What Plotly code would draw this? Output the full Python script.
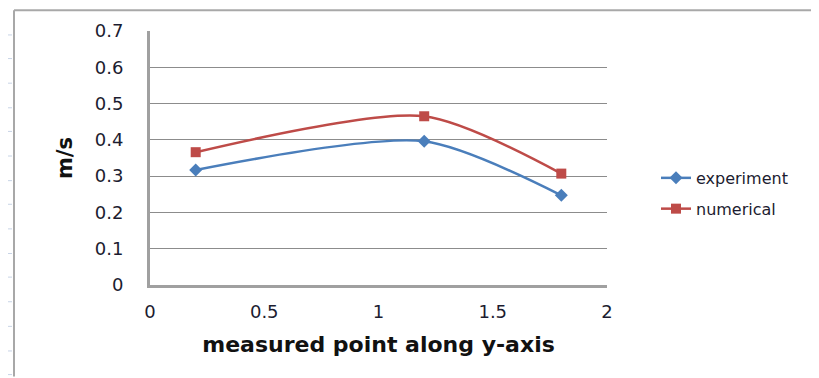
import plotly.graph_objects as go

x_points = [0.2, 1.2, 1.8]
experiment = [0.317, 0.396, 0.247]
numerical = [0.366, 0.465, 0.307]
x_ticks = [0, 0.5, 1, 1.5, 2]
x_tick_labels = ["0", "0.5", "1", "1.5", "2"]
y_ticks = [0, 0.1, 0.2, 0.3, 0.4, 0.5, 0.6, 0.7]
y_tick_labels = ["0", "0.1", "0.2", "0.3", "0.4", "0.5", "0.6", "0.7"]

OFF = 8  # page body margin
W, H = 819 - OFF, 378 - OFF
L, R, T, B = 150 - OFF, 607 - OFF, 27 - OFF, 285 - OFF


def px(xp):
    return (xp - OFF - L) / (R - L)


def py(yp):
    return (B - (yp - OFF)) / (B - T)


fig = go.Figure()
fig.add_trace(go.Scatter(
    x=x_points, y=experiment, name="experiment", mode="lines+markers",
    line=dict(color="#4a7ebb", width=2.5, shape="spline", smoothing=0.75),
    marker=dict(symbol="diamond", size=10, color="#4a7ebb"),
    legendgroup="a"))
fig.add_trace(go.Scatter(
    x=x_points, y=numerical, name="numerical", mode="lines+markers",
    line=dict(color="#be4b48", width=2.5, shape="spline", smoothing=0.75),
    marker=dict(symbol="square", size=10, color="#be4b48"),
    legendgroup="b"))

tickfont = dict(family="DejaVu Sans", size=18, color="#1c1c30")

fig.update_layout(
    width=W, height=H,
    margin=dict(l=L, r=W - R, t=T, b=H - B, pad=0),
    paper_bgcolor="white", plot_bgcolor="white",
    showlegend=True,
    legend=dict(x=px(656), y=py(159), xanchor="left", yanchor="top",
                font=dict(family="DejaVu Sans", size=16, color="#1c1c30"),
                tracegroupgap=7, bgcolor="rgba(0,0,0,0)"),
    xaxis=dict(range=[0, 2], tickvals=x_ticks, ticktext=x_tick_labels,
               showgrid=False, zeroline=False, showline=True,
               linecolor="#a0a0a0", linewidth=3, ticks="",
               ticklabelstandoff=8, tickfont=tickfont,
               title=dict(text="<b>measured point along y-axis</b>",
                          font=dict(family="DejaVu Sans", size=22, color="#111111"),
                          standoff=17)),
    yaxis=dict(range=[0, 0.7], tickvals=y_ticks, ticktext=y_tick_labels,
               showgrid=True, gridcolor="#8c8c8c", gridwidth=1,
               zeroline=False, showline=True,
               linecolor="#a0a0a0", linewidth=3, ticks="",
               ticklabelstandoff=20, tickfont=tickfont,
               title=dict(text="<b>m/s</b>",
                          font=dict(family="DejaVu Sans", size=21, color="#111111"),
                          standoff=17)),
)

# spreadsheet frame decorations around the chart object
shapes = []
shapes.append(dict(type="line", xref="paper", yref="paper",
                   x0=px(14), x1=px(14), y0=py(6), y1=py(378),
                   line=dict(color="#a8a8a8", width=2)))
shapes.append(dict(type="line", xref="paper", yref="paper",
                   x0=px(14), x1=px(819), y0=py(6), y1=py(6),
                   line=dict(color="#a8a8a8", width=2)))
for yp in [31, 55, 80, 105, 129, 154, 179, 203, 228, 253, 277, 302, 327, 352, 376]:
    shapes.append(dict(type="line", xref="paper", yref="paper",
                       x0=px(8), x1=px(12), y0=py(yp), y1=py(yp),
                       line=dict(color="#c8d4e6", width=1)))
fig.update_layout(shapes=shapes)

fig.write_html("out.html")
